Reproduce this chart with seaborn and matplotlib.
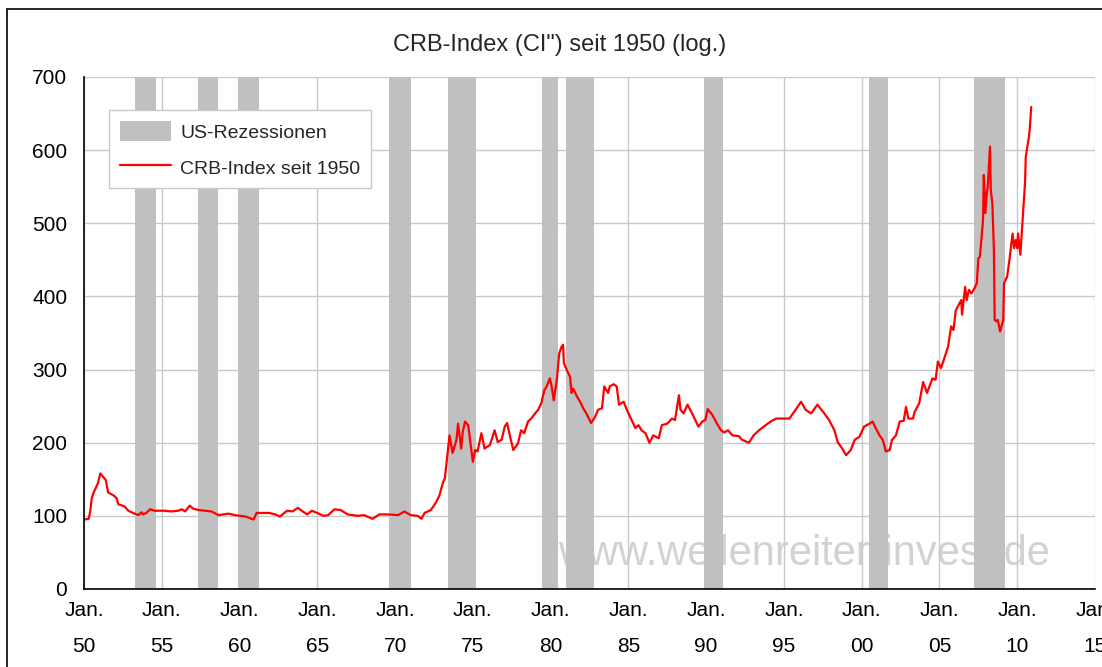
import numpy as np
import pandas as pd
import seaborn as sns
import matplotlib.pyplot as plt
from matplotlib.patches import Patch, Rectangle
from matplotlib.lines import Line2D

#%% data (decimal year, index level)

years = [1950.0, 1950.3, 1950.4, 1950.5, 1950.6, 1950.8, 1950.9, 1951.05, 1951.2, 1951.4,
         1951.55, 1951.9, 1952.1, 1952.2, 1952.6, 1952.85, 1953.15, 1953.5, 1953.7, 1953.8,
         1954.0, 1954.25, 1954.55, 1955.2, 1955.6, 1956.05, 1956.3, 1956.5, 1956.8, 1957.0,
         1957.35, 1957.8, 1958.2, 1958.65, 1959.3, 1959.7, 1960.4, 1960.9, 1961.1, 1961.9,
         1962.3, 1962.6, 1963.05, 1963.4, 1963.75, 1964.0, 1964.35, 1964.65, 1965.1, 1965.4,
         1965.7, 1966.1, 1966.5, 1966.95, 1967.6, 1968.0, 1968.55, 1969.0, 1969.5, 1970.2,
         1970.6, 1971.0, 1971.45, 1971.7, 1971.9, 1972.3, 1972.65, 1972.85, 1973.1, 1973.2,
         1973.35, 1973.5, 1973.7, 1973.95, 1974.05, 1974.25, 1974.35, 1974.5, 1974.7, 1974.85,
         1975.0, 1975.15, 1975.3, 1975.55, 1975.75, 1976.1, 1976.4, 1976.6, 1976.85, 1977.05,
         1977.2, 1977.4, 1977.6, 1977.9, 1978.1, 1978.3, 1978.55, 1978.75, 1979.0, 1979.2,
         1979.4, 1979.6, 1979.75, 1979.95, 1980.05, 1980.2, 1980.4, 1980.55, 1980.7, 1980.8,
         1980.85, 1981.05, 1981.25, 1981.35, 1981.45, 1981.7, 1981.9, 1982.1, 1982.3, 1982.6,
         1982.85, 1983.05, 1983.3, 1983.45, 1983.7, 1983.8, 1984.05, 1984.25, 1984.4, 1984.7,
         1984.9, 1985.1, 1985.45, 1985.65, 1985.85, 1986.1, 1986.35, 1986.6, 1986.95, 1987.15,
         1987.5, 1987.8, 1988.0, 1988.25, 1988.35, 1988.55, 1988.8, 1989.1, 1989.3, 1989.5,
         1989.75, 1989.95, 1990.1, 1990.4, 1990.7, 1990.95, 1991.15, 1991.4, 1991.7, 1992.1,
         1992.3, 1992.75, 1993.05, 1993.4, 1993.7, 1994.15, 1994.5, 1994.9, 1995.35, 1995.65,
         1996.1, 1996.4, 1996.75, 1997.15, 1997.6, 1997.9, 1998.25, 1998.45, 1998.75, 1999.0,
         1999.3, 1999.55, 1999.85, 2000.15, 2000.5, 2000.7, 2000.9, 2001.15, 2001.35, 2001.45,
         2001.55, 2001.8, 2001.95, 2002.2, 2002.45, 2002.7, 2002.85, 2003.0, 2003.3, 2003.4,
         2003.7, 2003.95, 2004.2, 2004.55, 2004.75, 2004.9, 2005.1, 2005.35, 2005.55, 2005.75,
         2005.9, 2006.05, 2006.3, 2006.4, 2006.45, 2006.65, 2006.75, 2006.9, 2007.05, 2007.25,
         2007.4, 2007.5, 2007.6, 2007.8, 2007.85, 2007.95, 2008.05, 2008.1, 2008.25, 2008.3,
         2008.4, 2008.5, 2008.55, 2008.65, 2008.75, 2008.9, 2009.1, 2009.15, 2009.35, 2009.5,
         2009.7, 2009.8, 2009.9, 2010.0, 2010.05, 2010.2, 2010.35, 2010.5, 2010.55, 2010.75,
         2010.8, 2010.9]
crb = [95, 96, 106, 124, 131, 140, 145, 158, 154, 149,
       132, 128, 124, 116, 113, 107, 104, 101, 105, 102,
       104, 109, 107, 107, 106, 107, 109, 106, 114, 110,
       108, 107, 106, 101, 103, 101, 99, 95, 104, 104,
       102, 99, 107, 106, 111, 107, 102, 107, 103, 100,
       101, 109, 108, 102, 100, 101, 96, 102, 102, 101,
       106, 101, 100, 96, 104, 108, 119, 128, 147, 151,
       181, 210, 186, 204, 226, 192, 215, 229, 224, 199,
       174, 190, 188, 213, 192, 197, 217, 201, 204, 222,
       227, 208, 190, 199, 217, 213, 229, 233, 240, 245,
       254, 272, 277, 288, 279, 258, 286, 322, 331, 334,
       309, 299, 290, 268, 274, 263, 256, 247, 240, 227,
       235, 245, 247, 277, 268, 277, 280, 277, 252, 256,
       245, 236, 220, 224, 217, 213, 200, 210, 206, 224,
       226, 233, 231, 265, 245, 240, 252, 240, 231, 222,
       229, 231, 246, 238, 226, 217, 214, 217, 210, 209,
       204, 200, 210, 217, 222, 229, 233, 233, 233, 242,
       256, 245, 240, 252, 240, 231, 217, 201, 192, 183,
       190, 204, 208, 222, 226, 229, 220, 210, 204, 197,
       188, 190, 204, 210, 229, 230, 249, 233, 233, 242,
       254, 283, 268, 288, 286, 311, 302, 318, 331, 359,
       354, 381, 391, 395, 375, 413, 395, 409, 404, 411,
       418, 452, 454, 504, 566, 514, 543, 548, 605, 546,
       527, 464, 368, 366, 368, 352, 368, 418, 427, 450,
       486, 466, 477, 466, 486, 457, 505, 555, 591, 618,
       628, 659]

# US recessions as shaded in the chart
rec_start = [1953.3, 1957.3, 1959.9, 1969.6, 1973.4, 1979.45, 1980.97, 1989.85, 2000.5, 2007.2]
rec_end = [1954.6, 1958.6, 1961.25, 1971.05, 1975.2, 1980.47, 1982.8, 1991.07, 2001.67, 2009.2]

tick_years = list(range(1950, 2016, 5))
tick_labels = ['Jan.\n' + str(y)[2:] for y in tick_years]
y_ticks = list(range(0, 701, 100))

#%% plot

sns.set_style('white')
plt.rcParams['font.family'] = ['Liberation Sans', 'DejaVu Sans']

df = pd.DataFrame({'Jahr': years, 'CRB': crb})

fig = plt.figure(figsize=(11.02, 6.67), dpi=100)
ax = fig.add_axes([84/1102, 1 - 589/667, (1095 - 84)/1102, 512/667])

# outer chart frame
fig.patches.append(Rectangle((7/1102, -0.05), 1.2, 1 - 9/667 + 0.05, transform=fig.transFigure,
                             fill=False, edgecolor='black', linewidth=1.2))

# watermark (sits behind the recession bars)
ax.text(1996.3, 48, 'www.wellenreiter-invest.de', color='#d2d2d2', fontsize=30,
        ha='center', va='center', zorder=0.5)

for s, e in zip(rec_start, rec_end):
    ax.axvspan(s, e, color='#c0c0c0', lw=0, zorder=1)

sns.lineplot(data=df, x='Jahr', y='CRB', color='red', linewidth=1.6, ax=ax, zorder=3,
             legend=False)

ax.set_xlim(1950, 2015)
ax.set_ylim(0, 700)
ax.set_xticks(tick_years)
ax.set_xticklabels(tick_labels, linespacing=2.1)
ax.set_yticks(y_ticks)
ax.set_xlabel('')
ax.set_ylabel('')
ax.tick_params(axis='both', labelsize=15, length=5, width=1, direction='out', colors='black')
ax.tick_params(axis='x', pad=4)
ax.tick_params(axis='y', pad=7)
ax.grid(True, color='#c8c8c8', linewidth=1, zorder=0)
ax.set_axisbelow(True)
for side in ['top', 'right']:
    ax.spines[side].set_visible(False)
for side in ['left', 'bottom']:
    ax.spines[side].set_color('black')
    ax.spines[side].set_linewidth(1.2)
    ax.spines[side].set_zorder(4)

handles = [Patch(facecolor='#c0c0c0', edgecolor='none'),
           Line2D([0], [0], color='red', linewidth=1.6)]
ax.legend(handles, ['US-Rezessionen', 'CRB-Index seit 1950'], loc='upper left',
          bbox_to_anchor=(0.025, 0.935), fontsize=14, frameon=True, fancybox=False,
          edgecolor='#c8c8c8', framealpha=1, handlelength=2.6, handleheight=1.2,
          handletextpad=0.5, borderpad=0.55, labelspacing=0.8, borderaxespad=0)

fig.text(0.508, 1 - 45/667, 'CRB-Index (CI") seit 1950 (log.)', ha='center', va='center',
         fontsize=17)

fig.savefig('out.png', dpi=100)
